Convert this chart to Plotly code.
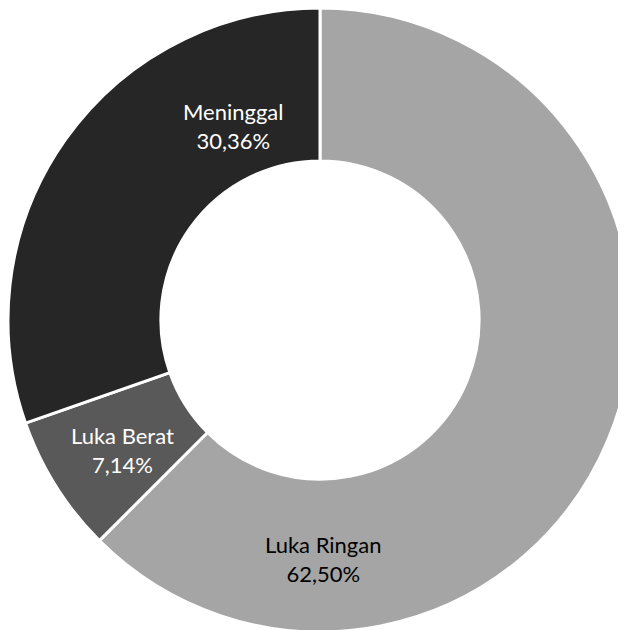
import plotly.graph_objects as go

categories = ["Luka Ringan", "Luka Berat", "Meninggal"]
counts = [35, 4, 17]
colors = ["#a5a5a5", "#595959", "#262626"]
text_colors = ["#000000", "#ffffff", "#ffffff"]
label_pos = [(0.505, 0.117), (0.183, 0.292), (0.361, 0.811)]

total = sum(counts)
fig = go.Figure(go.Pie(
    labels=categories, values=counts, hole=0.51, sort=False,
    direction="clockwise", rotation=0,
    marker=dict(colors=colors, line=dict(color="white", width=3)),
    textinfo="none", hoverinfo="label+percent", showlegend=False,
))

for cat, v, tc, (x, y) in zip(categories, counts, text_colors, label_pos):
    pct = f"{v / total * 100:.2f}".replace(".", ",")
    fig.add_annotation(x=x, y=y, xref="paper", yref="paper", showarrow=False,
                       xanchor="center", yanchor="middle",
                       text=f"{cat}<br>{pct}%",
                       font=dict(family="Lato", size=22, color=tc))

fig.update_layout(
    width=624, height=624, autosize=False,
    margin=dict(l=0, r=0, t=0, b=0),
    paper_bgcolor="white", plot_bgcolor="white",
    separators=",.",
)
fig.write_html(
    "out.html",
    post_script="document.documentElement.style.overflow='hidden';"
                "document.body.style.overflow='hidden';",
)
